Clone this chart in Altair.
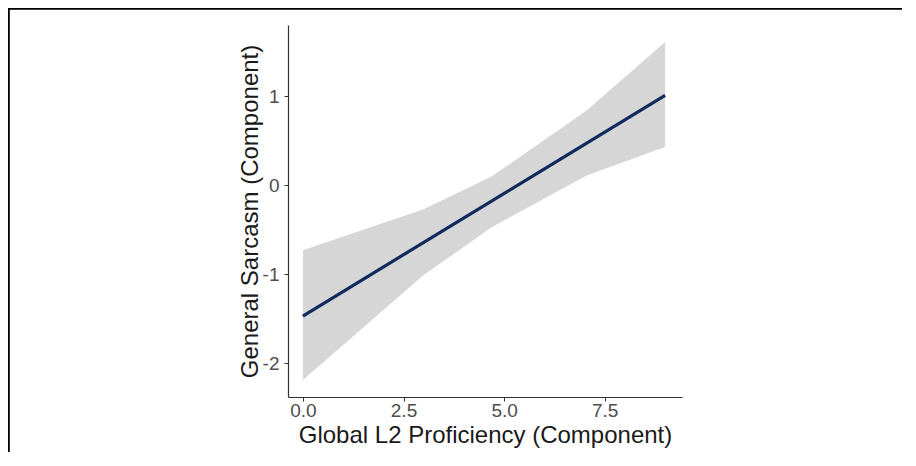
import altair as alt
import pandas as pd

# Data
band_x = [0.0, 3.0, 4.7, 7.05, 9.0]
band_lower = [-2.19, -1.01, -0.47, 0.11, 0.43]
band_upper = [-0.73, -0.27, 0.10, 0.84, 1.61]
fit_x = [0.0, 9.0]
fit_y = [-1.47, 1.01]

x_ticks = [0.0, 2.5, 5.0, 7.5]
y_ticks = [-2, -1, 0, 1]

band = pd.DataFrame({"x": band_x, "lo": band_lower, "hi": band_upper})
fit = pd.DataFrame({"x": fit_x, "y": fit_y})

font = "Liberation Sans"
xscale = alt.Scale(domain=[-0.37, 9.42], nice=False, zero=False)
yscale = alt.Scale(domain=[-2.38, 1.80], nice=False, zero=False)

xaxis = alt.Axis(
    title="Global L2 Proficiency (Component)", values=x_ticks, format=".1f",
    grid=False, domainColor="#333333", domainWidth=1.2, tickColor="#333333",
    tickSize=4, labelFont=font, labelFontSize=19, labelColor="#4d4d4d",
    labelPadding=0, titleFont=font, titleFontSize=24, titleFontWeight="normal",
    titleColor="#1a1a1a", titlePadding=3,
)
yaxis = alt.Axis(
    title="General Sarcasm (Component)", values=y_ticks,
    labelExpr="'' + datum.value",
    grid=False, domainColor="#333333", domainWidth=1.2, tickColor="#333333",
    tickSize=4, labelFont=font, labelFontSize=19, labelColor="#4d4d4d",
    labelPadding=5, titleFont=font, titleFontSize=24, titleFontWeight="normal",
    titleColor="#1a1a1a", titlePadding=0,
)

area = alt.Chart(band).mark_area(color="#d6d6d6", opacity=1).encode(
    x=alt.X("x:Q", scale=xscale, axis=xaxis),
    y=alt.Y("lo:Q", scale=yscale, axis=yaxis),
    y2="hi:Q",
)
line = alt.Chart(fit).mark_line(color="#102a5c", strokeWidth=3.2).encode(
    x=alt.X("x:Q", scale=xscale),
    y=alt.Y("y:Q", scale=yscale),
)

# frame lines (top and left) around the figure, at the edge of the drawing
top_rule = alt.Chart(fit).mark_rule(color="black", strokeWidth=1.5).encode(
    x=alt.value(-280), x2=alt.value(614), y=alt.value(-16.2)
)
left_rule = alt.Chart(fit).mark_rule(color="black", strokeWidth=1.5).encode(
    x=alt.value(-279.2), y=alt.value(-17), y2=alt.value(427)
)

chart = alt.layer(area, line, top_rule, left_rule).properties(
    width=394, height=372,
    autosize=alt.AutoSizeParams(type="none"),
    padding={"left": 280, "top": 17, "right": 220, "bottom": 55},
    background="white",
).configure_view(stroke=None)

chart.save("out.html", embed_options={"renderer": "svg", "actions": False})
